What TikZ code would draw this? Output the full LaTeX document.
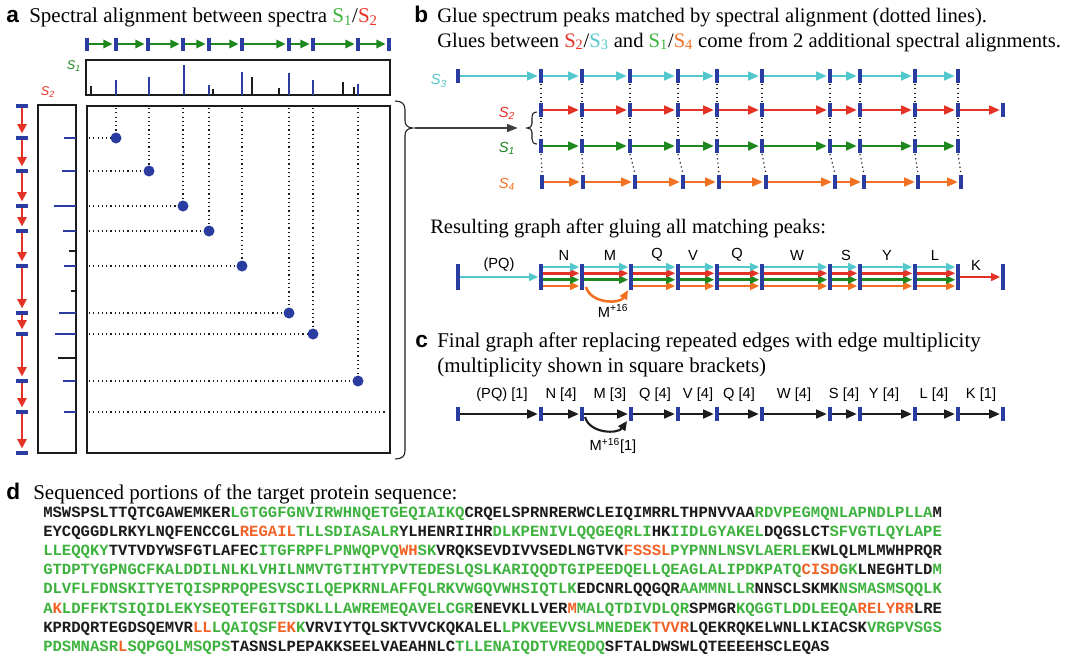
\documentclass[tikz,border=0pt]{standalone}
\usepackage{fontspec}
\setmainfont{Liberation Serif}
\newfontfamily\sansf{Liberation Sans}
\newfontfamily\monof{Liberation Mono}
\usetikzlibrary{arrows.meta}

\definecolor{tickblue}{RGB}{42,60,160}
\definecolor{sred}{RGB}{228,50,38}
\definecolor{sgreen}{RGB}{30,135,30}
\definecolor{scyan}{RGB}{82,200,205}
\definecolor{sorange}{RGB}{242,112,34}
\definecolor{lgreen}{RGB}{62,178,62}
\definecolor{lorange}{RGB}{242,98,38}
\definecolor{ink}{RGB}{28,28,28}

\newcommand{\gs}[1]{\textcolor{lgreen}{#1}}
\newcommand{\os}[1]{\textcolor{lorange}{#1}}
\newcommand{\ttl}{\fontsize{15.75pt}{19pt}\selectfont}
\newcommand{\ttlb}{\fontsize{15.45pt}{19pt}\selectfont}
\newcommand{\plet}{\sansf\bfseries\fontsize{17pt}{20pt}\selectfont}
\newcommand{\lab}{\sansf\fontsize{11pt}{13pt}\selectfont}
\newcommand{\slab}{\sansf\itshape\fontsize{9.5pt}{11pt}\selectfont}
\newcommand{\slabb}{\sansf\itshape\fontsize{11pt}{13pt}\selectfont}
\newcommand{\seqf}{\monof\bfseries\fontsize{11.7pt}{14pt}\selectfont}
% vertical peak marker: x, y, half height
\newcommand{\vtick}[3]{\fill[tickblue] ({#1-1.9},{#2-#3}) rectangle ({#1+1.9},{#2+#3});}
% horizontal peak marker: x, y
\newcommand{\htick}[2]{\fill[tickblue] ({#1-6},{#2-2}) rectangle ({#1+6},{#2+2});}

\begin{document}
\begin{tikzpicture}[x=0.75pt,y=-0.75pt,
  every node/.style={inner sep=0pt},
  sarrow/.style={line width=1.6pt,-{Triangle[length=6.8pt,width=6.2pt]},shorten >=2.6pt},
  varrow/.style={line width=1.5pt,-{Triangle[length=7pt,width=7pt]},shorten >=3.5pt},
  barrow/.style={line width=1.6pt,-{Triangle[length=8pt,width=6.6pt]},shorten >=2.4pt},
  lanearrow/.style={line width=1.9pt,-{Triangle[length=7pt,width=5.8pt]},shorten >=2pt},
  karrow/.style={line width=1.6pt,-{Triangle[length=8pt,width=6.6pt]},shorten >=2.4pt},
  boxframe/.style={draw=ink,line width=0.8pt},
  bpeak/.style={line width=1.4pt,tickblue},
  kpeak/.style={line width=0.9pt,ink},
  dots/.style={line width=0.9pt,ink,dash pattern=on 0.9pt off 2.3pt},
  dotmark/.style={fill=tickblue,draw=none},
  bracepath/.style={line width=0.8pt,ink}]

\useasboundingbox (0,0) rectangle (1070,654);

%================ panel a ================
\node[anchor=base west] (la) at (6,22) {\plet a};
\node[anchor=base west] (ta) at (29,22) {\ttl Spectral alignment between spectra \textcolor{lgreen}{S\textsubscript{1}}/\textcolor{sred}{S\textsubscript{2}}};

% spectrum S1 as a path of peaks
\foreach \x [count=\i] in {87,116,148,183,209,242,289,313,358,389}
  \coordinate (a\i) at (\x,44);
\foreach \i [evaluate=\i as \j using int(\i+1)] in {1,...,9}
  \draw[sarrow,sgreen] (a\i) -- (a\j);
\foreach \x in {87,116,148,183,209,242,289,313,358,389} {\vtick{\x}{44}{6.5}}

\node (s1lab) at (74,66) {\slab\textcolor{sgreen}{S\textsubscript{1}}};
\draw[boxframe] (86,60) rectangle (390,95);
\foreach \x/\h in {116/80,149/77,184/65,209/85,242/72,289/73,313/80,358/84}
  \draw[bpeak] (\x,95) -- (\x,\h);
\foreach \x/\h in {91/86,213/89,252/77,279/88,343/82,354/87}
  \draw[kpeak] (\x,95) -- (\x,\h);

% spectrum S2 as a path of peaks
\node (s2lab) at (48,92) {\slab\textcolor{sred}{S\textsubscript{2}}};
\foreach \y [count=\i] in {106,138,171,206,231,266,313,334,381,412,453}
  \coordinate (b\i) at (22,\y);
\foreach \i [evaluate=\i as \j using int(\i+1)] in {1,...,10}
  \draw[varrow,sred] (b\i) -- (b\j);
\foreach \y in {106,138,171,206,231,266,313,334,381,412,453} {\htick{22}{\y}}

\draw[boxframe] (38,105) rectangle (76,453);
\foreach \y/\s in {138/64,171/62,206/54,231/63,266/64,313/59,334/55,381/63,412/64}
  \draw[bpeak] (\s,\y) -- (76,\y);
\foreach \y/\s in {251/69,291/71,358/58}
  \draw[kpeak] (\s,\y) -- (76,\y);

% alignment matrix
\draw[boxframe] (87,106) rectangle (390,453);
\foreach \x/\y [count=\k] in {116/138,149/171,183/206,209/231,242/266,289/313,313/334,358/381} {
  \coordinate (m\k) at (\x,\y);
  \draw[dots] (\x,108) -- (m\k);
  \draw[dots] (89,\y) -- (m\k);
}
\draw[dots] (89,412) -- (387,412);
\foreach \k in {1,...,8} \fill[dotmark] (m\k) circle (5.5);

% brace on the right of the matrix
\coordinate (braceA) at (413,128);
\draw[bracepath] (395,101) .. controls (402,101) and (405,104) .. (405,110)
  -- (405,121) .. controls (405,125) and (408,128) .. (braceA)
  .. controls (408,128) and (405,131) .. (405,135)
  -- (405,451) .. controls (405,456) and (402,459) .. (395,459);

%================ panel b ================
\node[anchor=base west] (lb) at (414,22) {\plet b};
\node[anchor=base west] (tb1) at (437,22) {\ttlb Glue spectrum peaks matched by spectral alignment (dotted lines).};
\node[anchor=base west] (tb2) at (437,47) {\ttlb Glues between \textcolor{sred}{S\textsubscript{2}}/\textcolor{scyan}{S\textsubscript{3}} and \textcolor{lgreen}{S\textsubscript{1}}/\textcolor{sorange}{S\textsubscript{4}} come from 2 additional spectral alignments.};

% brace grouping S2 and S1, fed by the arrow from panel a
\coordinate (braceB) at (527,128);
\draw[bracepath] (537,112) .. controls (533.5,112) and (532,114) .. (532,118)
  -- (532,124) .. controls (532,126.5) and (530,128) .. (braceB)
  .. controls (530,128) and (532,129.5) .. (532,132)
  -- (532,139) .. controls (532,142) and (533.5,144) .. (537,144);
\draw[line width=1pt,ink!85,-{Triangle[length=8pt,width=6pt]}]
  ([xshift=1.5pt]braceA) -- ([xshift=-7pt]braceB);

% the four spectra
\foreach \x [count=\i] in {458,541,582,630,678,717,762,830,860,915,958} \coordinate (c\i) at (\x,76);
\foreach \x [count=\i] in {541,582,630,678,717,762,830,860,915,958,1003} \coordinate (d\i) at (\x,110);
\foreach \x [count=\i] in {541,582,630,678,717,762,830,860,915,958} \coordinate (e\i) at (\x,146);
\foreach \x [count=\i] in {542,583,635,683,719,766,835,864,918,961} \coordinate (f\i) at (\x,182);

% dotted glue lines
\foreach \x in {541,582,630,678,717,762,830,860,915,958} {
  \draw[dots] (\x,84) -- (\x,103);
  \draw[dots] (\x,118) -- (\x,139);
}
\foreach \i in {1,...,10} \draw[dots] ([yshift=-6pt]e\i) -- ([yshift=6pt]f\i);

\foreach \i [evaluate=\i as \j using int(\i+1)] in {1,...,10} {
  \draw[barrow,scyan] (c\i) -- (c\j);
  \draw[barrow,sred] (d\i) -- (d\j);
}
\foreach \i [evaluate=\i as \j using int(\i+1)] in {1,...,9} {
  \draw[barrow,sgreen] (e\i) -- (e\j);
  \draw[barrow,sorange] (f\i) -- (f\j);
}
\foreach \x in {458,541,582,630,678,717,762,830,860,915,958} {\vtick{\x}{76}{7}}
\foreach \x in {541,582,630,678,717,762,830,860,915,958,1003} {\vtick{\x}{110}{7}}
\foreach \x in {541,582,630,678,717,762,830,860,915,958} {\vtick{\x}{146}{7}}
\foreach \x in {542,583,635,683,719,766,835,864,918,961} {\vtick{\x}{182}{7}}

\node (s3b) at (439,81) {\slabb\textcolor{scyan}{S\textsubscript{3}}};
\node (s2b) at (507,113) {\slabb\textcolor{sred}{S\textsubscript{2}}};
\node (s1b) at (507,148) {\slabb\textcolor{sgreen}{S\textsubscript{1}}};
\node (s4b) at (507,184) {\slabb\textcolor{sorange}{S\textsubscript{4}}};

% glued graph
\node[anchor=base west] (tr) at (430,233) {\fontsize{15.4pt}{19pt}\selectfont Resulting graph after gluing all matching peaks:};
\foreach \x [count=\i] in {458,541,582,631,678,717,762,830,860,915,958,1003} {
  \coordinate (gc\i) at (\x,267);
  \coordinate (gr\i) at (\x,273.3);
  \coordinate (gg\i) at (\x,279.7);
  \coordinate (go\i) at (\x,286);
  \coordinate (gm\i) at (\x,277);
}
\draw[lanearrow,scyan] (gm1) -- (gm2);
\draw[lanearrow,sred] (gm11) -- (gm12);
\foreach \i [evaluate=\i as \j using int(\i+1)] in {2,4,5,6,7,8,9,10}
  \draw[lanearrow,sorange] (go\i) -- (go\j);
\foreach \i [evaluate=\i as \j using int(\i+1)] in {2,...,10} {
  \draw[lanearrow,sgreen] (gg\i) -- (gg\j);
  \draw[lanearrow,sred] (gr\i) -- (gr\j);
  \draw[lanearrow,scyan] (gc\i) -- (gc\j);
}
\draw[line width=1.9pt,sorange,-{Triangle[length=7pt,width=5.8pt]}]
  (586,287) .. controls (591,304) and (620,304) .. (628,290);
\foreach \x in {458,541,582,631,678,717,762,830,860,915,958,1003} {\vtick{\x}{277}{13}}

\node (gPQ) at (499,265) {\lab (PQ)};
\node (gK) at (976,265) {\lab K};
\foreach \t/\x [count=\k] in {N/564,M/610,Q/657,V/693,Q/737,W/797,S/846,Y/887,L/935}
  \node (gl\k) at (\x,255) {\lab \t};
\node (gM16) at (613,311) {\lab M\textsuperscript{+16}};

%================ panel c ================
\node[anchor=base west] (lc) at (415,347) {\plet c};
\node[anchor=base west] (tc1) at (437,347) {\ttl Final graph after replacing repeated edges with edge multiplicity};
\node[anchor=base west] (tc2) at (437,372) {\ttl (multiplicity shown in square brackets)};

\foreach \x [count=\i] in {458,541,582,631,678,717,762,830,860,915,958,1003}
  \coordinate (h\i) at (\x,414);
\foreach \i [evaluate=\i as \j using int(\i+1)] in {1,...,11}
  \draw[karrow,ink] (h\i) -- (h\j);
\draw[line width=1.6pt,ink,-{Triangle[length=7pt,width=6.2pt]}]
  (585,417) .. controls (590,434) and (618,434) .. (627,421);
\foreach \x in {458,541,582,631,678,717,762,830,860,915,958,1003} {\vtick{\x}{414}{7}}

\foreach \t/\x [count=\k] in {(PQ) [1]/502,N [4]/561,M [3]/610,Q [4]/655,V [4]/698,Q [4]/739,W [4]/794,S [4]/844,Y [4]/884,L [4]/934,K [1]/981}
  \node (hl\k) at (\x,395) {\lab \t};
\node (hM16) at (613,446) {\lab M\textsuperscript{+16}[1]};

%================ panel d ================
\node[anchor=base west] (ld) at (6,499) {\plet d};
\node[anchor=base west] (td) at (33,499) {\ttl Sequenced portions of the target protein sequence:};

\begin{scope}[every node/.style={anchor=base west,inner sep=0pt,text=ink,font=\seqf}]
\node (q1) at (43,517) {MSWSPSLTTQTCGAWEMKER\gs{LGTGGFGNVIRWHNQETGEQIAIKQ}CRQELSPRNRERWCLEIQIMRRLTHPNVVAA\gs{RDVPEGMQNLAPNDLPLLA}M};
\node (q2) at (43,536.2) {EYCQGGDLRKYLNQFENCCGL\os{REGAIL}\gs{TLLSDIASALR}YLHENRIIHR\gs{DLKPENIVLQQGEQRLI}HK\gs{IIDLGYAKEL}DQGSLCT\gs{SFVGTLQYLAPE}};
\node (q3) at (43,555.4) {\gs{LLEQQKY}TVTVDYWSFGTLAFEC\gs{ITGFRPFLPNWQPVQ}\os{WH}\gs{SK}VRQKSEVDIVVSEDLNGTVK\os{FSSSL}\gs{PYPNNLNSVLAERLE}KWLQLMLMWHPRQR};
\node (q4) at (43,574.6) {\gs{GTDPTYGPNGCFKALDDILNLKLVHILNMVTGTIHTYPVTEDESLQSLKARIQQDTGIPEEDQELLQEAGLALIPDKPATQ}\os{CISD}\gs{GK}LNEGHTLD\gs{M}};
\node (q5) at (43,593.8) {\gs{DLVFLFDNSKITYETQISPRPQPESVSCILQEPKRNLAFFQLRKVWGQVWHSIQTLK}EDCNRLQQGQR\gs{AAMMNLLR}NNSCLSKMK\gs{NSMASMSQQLK}};
\node (q6) at (43,613) {\gs{A}\os{K}\gs{LDFFKTSIQIDLEKYSEQTEFGITSDKLLLAWREMEQAVELCGR}ENEVKLLVER\os{M}\gs{MALQTDIVDLQR}SPMGR\gs{KQGGTLDDLEEQA}\os{RELYRR}LRE};
\node (q7) at (43,632.2) {KPRDQRTEGDSQEMVR\os{LL}\gs{LQAIQSF}\os{EK}\gs{K}VRVIYTQLSKTVVCKQKALEL\gs{LPKVEEVVSLMNEDEK}\os{TVVR}LQEKRQKELWNLLKIACSK\gs{VRGPVSGS}};
\node (q8) at (43,651.4) {\gs{PDSMNASR}\os{L}\gs{SQPGQLMSQPS}TASNSLPEPAKKSEELVAEAHNLC\gs{TLLENAIQDTVREQDQ}SFTALDWSWLQTEEEEHSCLEQAS};
\end{scope}

\end{tikzpicture}
\end{document}
